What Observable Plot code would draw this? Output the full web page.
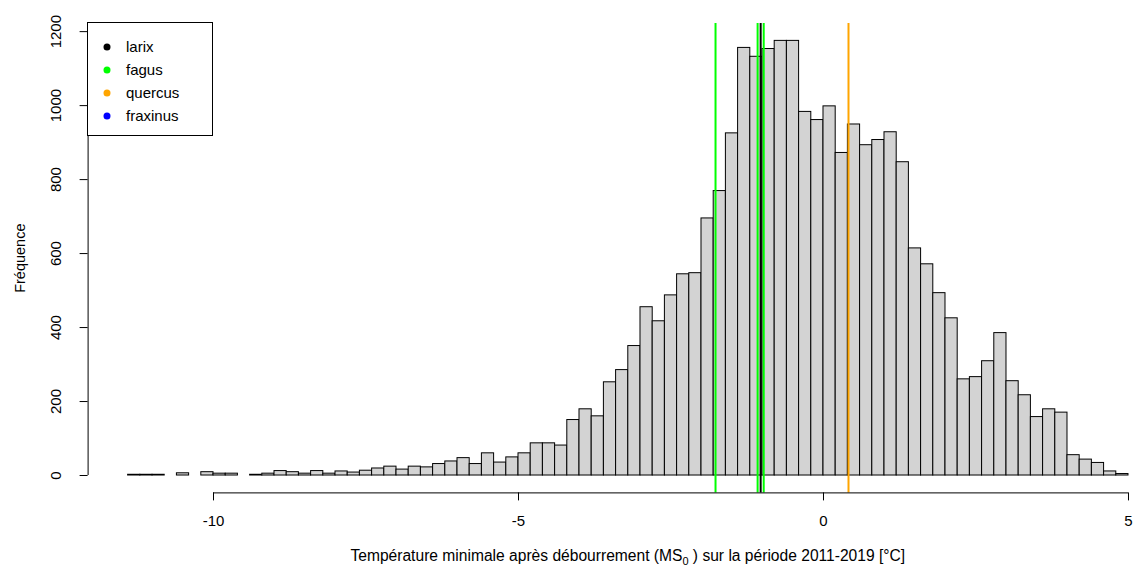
<!DOCTYPE html>
<html>
<head>
<meta charset="utf-8">
<script src="https://cdn.jsdelivr.net/npm/d3@7"></script>
<script src="https://cdn.jsdelivr.net/npm/@observablehq/plot@0.6"></script>
<style>
  body { margin: 0; background: #fff; }
  #wrap { position: relative; width: 1136px; height: 567px; font-family: "Liberation Sans", Arial, sans-serif; }
  #legend { position: absolute; left: 0; top: 0; }
</style>
</head>
<body>
<div id="wrap"></div>
<script>
// ---- data ----
const binStart = -11.4;
const binWidth = 0.2;
const counts = [
  2, 2, 2, 0, 6, 0, 9, 5, 5, 0,
  2, 5, 12, 9, 5, 12, 5, 11, 8, 13,
  19, 24, 16, 24, 22, 31, 38, 47, 31, 60,
  35, 49, 60, 87, 87, 81, 150, 179, 160, 252,
  285, 350, 455, 417, 487, 544, 547, 695, 769, 925,
  1156, 1132, 1153, 1175, 1175, 983, 961, 998, 872, 949,
  893, 907, 928, 847, 614, 571, 493, 425, 260, 266,
  309, 385, 255, 217, 158, 179, 170, 55, 43, 34,
  11, 4
];
const xTicks = [-10, -5, 0, 5];
const yTicks = [0, 200, 400, 600, 800, 1000, 1200];
const lineValues = [-1.77, -1.08, -0.98, -1.03, 0.41];
const lineColors = ["#00ff00", "#00ff00", "#00ff00", "#000000", "#ffa500"];
const legendLabels = ["larix", "fagus", "quercus", "fraxinus"];
const legendColors = ["#000000", "#00ff00", "#ffa500", "#0000ff"];
const yLabel = "Fréquence";
const xLabelBefore = "Température minimale après débourrement (MS";
const xLabelSub = "0";
const xLabelAfter = " ) sur la période 2011-2019 [°C]";

// ---- derived ----
const bins = counts.map((c, i) => ({x1: binStart + i * binWidth, x2: binStart + (i + 1) * binWidth, count: c}))
  .filter(d => d.count > 0);
const lines = lineValues.map((v, i) => ({v, c: lineColors[i]}));
const xMin = binStart, xMax = binStart + counts.length * binWidth;
const xPad = 0.04 * (xMax - xMin);
const yMax = d3.max(counts);
const yPad = 0.04 * yMax;
const xDomain = [xMin - xPad, xMax + xPad];
const yDomain = [-yPad, yMax + yPad];

const W = 1136, H = 567;
const font = "Liberation Sans, Arial, sans-serif";

const svg = Plot.plot({
  width: W, height: H,
  marginLeft: 87.6, marginTop: 23, marginBottom: 74.6, marginRight: 0,
  x: {domain: xDomain, range: [87.6, 1168]},
  y: {domain: yDomain},
  style: {fontFamily: font, fontSize: "15px", color: "#000", background: "#fff", overflow: "visible"},
  marks: [
    Plot.rectY(bins, {x1: "x1", x2: "x2", y1: 0, y2: "count", fill: "#d3d3d3", stroke: "#000", strokeWidth: 1, inset: 0}),
    Plot.ruleX(lines, {x: "v", stroke: "c", strokeWidth: 2}),
    Plot.ruleY([yDomain[0]], {x1: xTicks[0], x2: xTicks[xTicks.length - 1], stroke: "#000"}),
    Plot.ruleX([xDomain[0]], {y1: yTicks[0], y2: yTicks[yTicks.length - 1], stroke: "#000"}),
    Plot.axisX({ticks: xTicks, tickSize: 8, tickPadding: 14, tickFormat: d => String(d), label: null, fontSize: 15}),
    Plot.axisY({ticks: yTicks, tickSize: 8, tickFormat: () => "", label: null}),
    Plot.text(yTicks, {x: xDomain[0], y: d => d, text: d => String(d), rotate: -90, dx: -32, textAnchor: "middle", lineAnchor: "middle", fontSize: 15}),
    Plot.text([yLabel], {frameAnchor: "left", rotate: -90, dx: -68, fontSize: 14.5, textAnchor: "middle", lineAnchor: "middle"})
  ]
});

// x axis title with subscript
const xs = svg.scale("x");
const t = d3.select(svg).append("text")
  .attr("x", xs.apply((xDomain[0] + xDomain[1]) / 2))
  .attr("y", 561)
  .attr("text-anchor", "middle")
  .attr("font-family", font)
  .attr("font-size", 15.6)
  .attr("fill", "#000");
t.append("tspan").text(xLabelBefore);
t.append("tspan").attr("font-size", 11).attr("dy", 4).text(xLabelSub);
t.append("tspan").attr("dy", -4).text(xLabelAfter);

const wrap = document.getElementById("wrap");
wrap.appendChild(svg);

// legend overlay
const lg = d3.select(wrap).append("svg").attr("id", "legend").attr("width", W).attr("height", 200);
lg.append("rect").attr("x", 87.5).attr("y", 22.5).attr("width", 125).attr("height", 113)
  .attr("fill", "#fff").attr("stroke", "#000");
const items = lg.selectAll("g").data(legendLabels).join("g")
  .attr("transform", (d, i) => `translate(0,${47 + i * 23})`);
items.append("circle").attr("cx", 107).attr("cy", 0).attr("r", 3.5).attr("fill", (d, i) => legendColors[i]);
items.append("text").attr("x", 126).attr("y", 0).attr("dy", "0.35em")
  .attr("font-family", font).attr("font-size", 15).attr("fill", "#000").text(d => d);
</script>
</body>
</html>
